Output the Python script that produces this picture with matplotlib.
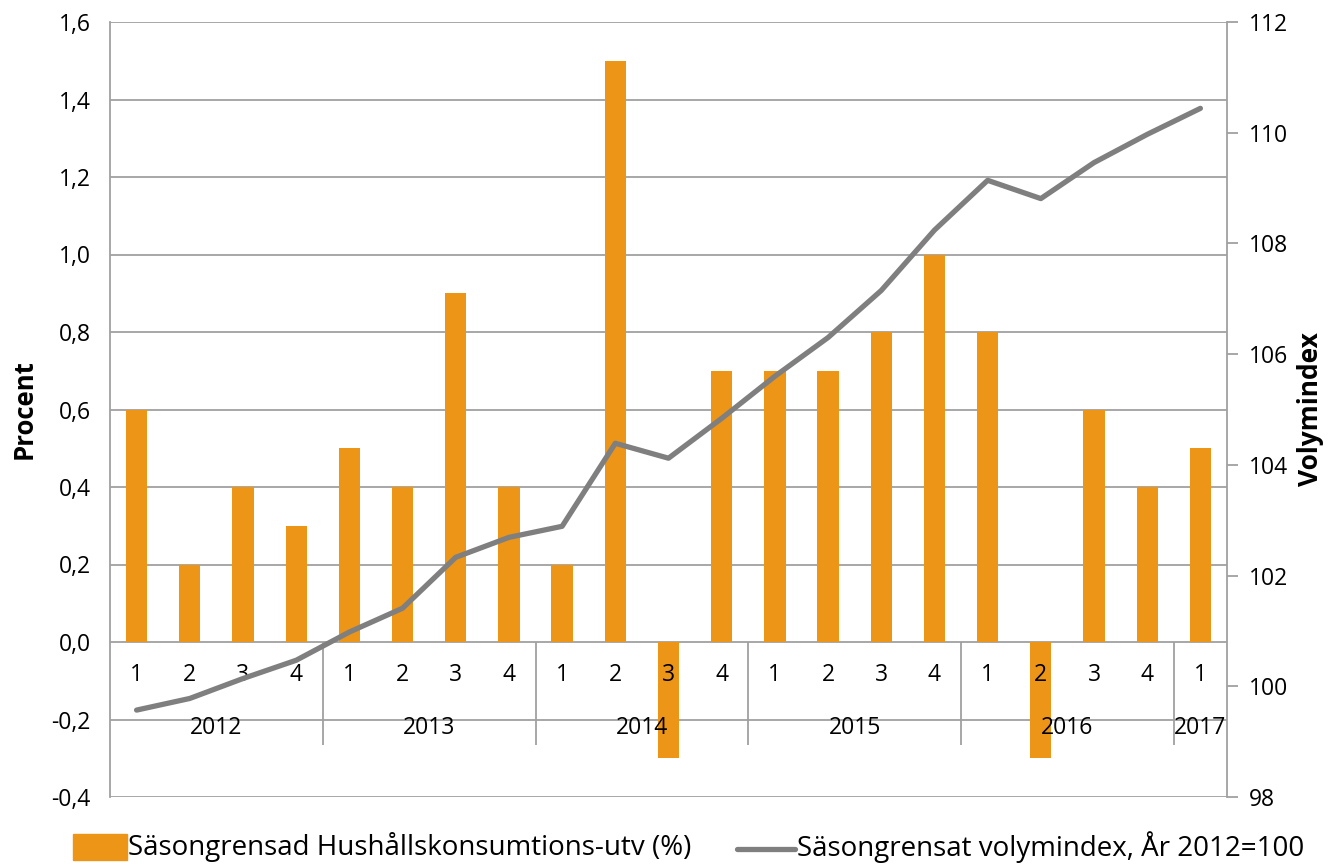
import numpy as np
import matplotlib.pyplot as plt
from matplotlib.patches import Rectangle
from matplotlib.lines import Line2D

plt.rcParams['font.family'] = ['Open Sans', 'DejaVu Sans']

quarters = ['1', '2', '3', '4'] * 5 + ['1']
years = ['2012', '2013', '2014', '2015', '2016', '2017']
# procent, säsongrensad hushållskonsumtion
konsumtion = [0.6, 0.2, 0.4, 0.3, 0.5, 0.4, 0.9, 0.4, 0.2, 1.5, -0.3, 0.7,
              0.7, 0.7, 0.8, 1.0, 0.8, -0.3, 0.6, 0.4, 0.5]
# volymindex, år 2012=100
volymindex = [99.57, 99.78, 100.14, 100.47, 100.98, 101.41, 102.33, 102.69,
              102.89, 104.39, 104.12, 104.84, 105.60, 106.30, 107.15, 108.24,
              109.14, 108.81, 109.46, 109.97, 110.44]

orange = '#ED9517'
grey = '#7F7F7F'
gridc = '#A0A0A0'

fig = plt.figure(figsize=(13.33, 8.66), dpi=100)
ax = fig.add_axes([110/1333, 69/866, 1117/1333, 775/866])
x = np.arange(len(konsumtion))

ax.bar(x, konsumtion, width=0.4, color=orange, zorder=2)
ax.set_xlim(-0.5, len(x) - 0.5)
ax.set_ylim(-0.4, 1.6)
ax.set_yticks(np.arange(-0.4, 1.61, 0.2))
ax.set_yticklabels([('%.1f' % v).replace('.', ',').replace('-0,0', '0,0') for v in np.arange(-0.4, 1.61, 0.2)])
ax.yaxis.grid(True, color=gridc, linewidth=1.3, zorder=0)
ax.set_axisbelow(True)
ax.set_xticks([])
ax.tick_params(axis='y', length=0, labelsize=16.5, pad=14)
for s in ['top', 'bottom', 'right']:
    ax.spines[s].set_visible(False)
ax.spines['left'].set_color(gridc)
ax.spines['left'].set_linewidth(1.3)
ax.set_ylabel('Procent', fontsize=18.5, fontweight='bold', labelpad=10)

# kategoriaxel med kvartal och år
for i, q in enumerate(quarters):
    ax.text(i, -0.085, q, ha='center', va='center', fontsize=16.5, zorder=4)
for k, yr in enumerate(years):
    ax.text(min(4 * k + 1.5, len(x) - 1), -0.222, yr, ha='center', va='center',
            fontsize=16.5, zorder=4)
ax.vlines([3.5, 7.5, 11.5, 15.5, 19.5], -0.265, 0, color=gridc, linewidth=1.3, zorder=1)

ax2 = ax.twinx()
ax2.plot(x, volymindex, color=grey, linewidth=3.8, solid_capstyle='round', zorder=5)
ax2.set_ylim(98, 112)
ax2.set_yticks(np.arange(98, 113, 2))
ax2.tick_params(axis='y', length=8, width=1.3, color=gridc, labelsize=16.5, pad=8)
for s in ['top', 'bottom', 'left']:
    ax2.spines[s].set_visible(False)
ax2.spines['right'].set_color(gridc)
ax2.spines['right'].set_linewidth(1.3)
ax2.set_ylabel('Volymindex', fontsize=19, fontweight='bold', labelpad=6)

# legend
fig.add_artist(Rectangle((73/1333, 6/866), 54/1333, 26/866, color=orange, transform=fig.transFigure))
fig.text(128/1333, 19/866, 'Säsongrensad Hushållskonsumtions-utv (%)', fontsize=20, va='center')
fig.add_artist(Line2D([737/1333, 795/1333], [17/866, 17/866], color=grey, linewidth=3.8,
                      solid_capstyle='round', transform=fig.transFigure))
fig.text(797/1333, 19/866, 'Säsongrensat volymindex, År 2012=100', fontsize=20, va='center')

fig.savefig('out.png', dpi=100)
